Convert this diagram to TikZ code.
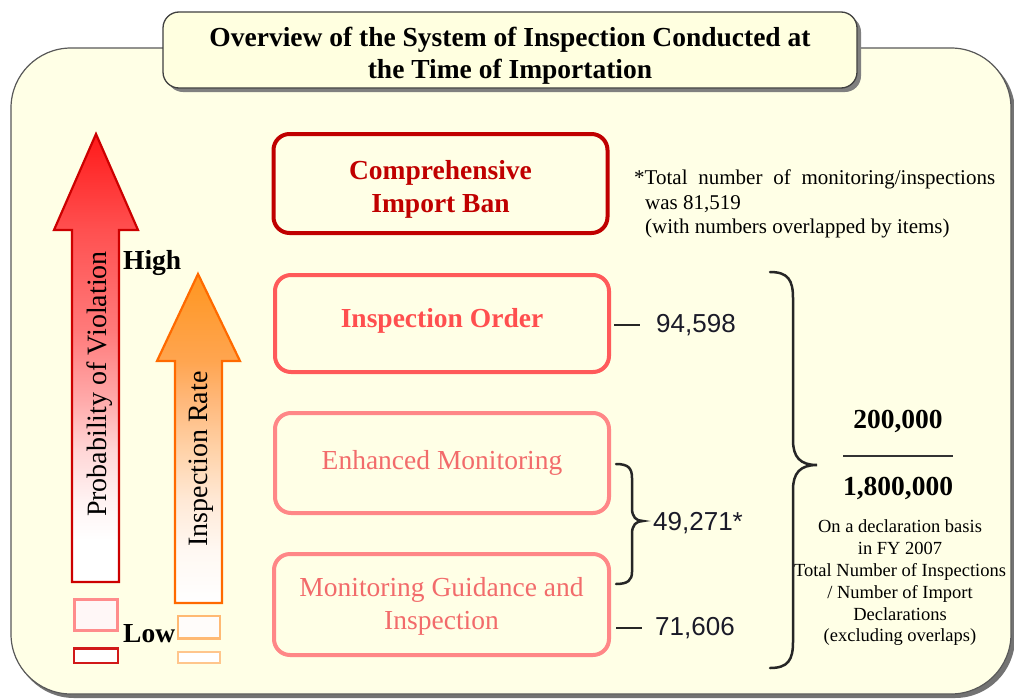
\documentclass[tikz,border=0pt]{standalone}
\usepackage{fontspec}
\setmainfont{Liberation Serif}
\newfontfamily\numfont{Liberation Sans}

% palette
\definecolor{panelfill}{HTML}{FFFFE6}
\definecolor{titlefill}{HTML}{FFFFE0}
\definecolor{banred}{HTML}{C00000}
\definecolor{orderred}{HTML}{FF4F4F}
\definecolor{orderline}{HTML}{FF5A5A}
\definecolor{softline}{HTML}{FF8787}
\definecolor{softtext}{HTML}{F26B6B}
\definecolor{arrowred}{HTML}{CC0000}
\definecolor{arroworange}{HTML}{FF6A00}
\definecolor{numink}{HTML}{1A1A28}
% shading stops
\definecolor{ra}{HTML}{FF1A1A}
\definecolor{rb}{HTML}{FF5050}
\definecolor{rc}{HTML}{FF7A7A}
\definecolor{rd}{HTML}{FFAAAA}
\definecolor{re}{HTML}{FFD6D6}
\definecolor{rf}{HTML}{FFF2F2}
\definecolor{oa}{HTML}{FF9620}
\definecolor{ob}{HTML}{FFA550}
\definecolor{oc}{HTML}{FFB87A}
\definecolor{od}{HTML}{FFD2A8}
\definecolor{oe}{HTML}{FFE9D6}
\definecolor{of}{HTML}{FFF8F2}

\pgfdeclareverticalshading{redfade}{100bp}{color(0bp)=(white); color(25bp)=(white);
  color(29.7bp)=(white); color(34.2bp)=(rf); color(39.7bp)=(re); color(45.3bp)=(rd);
  color(53.1bp)=(rc); color(64.3bp)=(rb); color(75bp)=(ra); color(100bp)=(ra)}
\pgfdeclareverticalshading{orangefade}{100bp}{color(0bp)=(white); color(25bp)=(white);
  color(33bp)=(of); color(40.6bp)=(oe); color(48.3bp)=(od); color(55.8bp)=(oc);
  color(61.8bp)=(ob); color(75bp)=(oa); color(100bp)=(oa)}

\tikzset{
  catbox/.style={draw, rounded corners=16pt, line width=4pt, fill=panelfill,
    minimum width=334pt, minimum height=99pt, align=center, inner sep=0pt},
  boldtext/.style={font=\fontsize{27.5}{33}\selectfont\bfseries},
  plaintext/.style={font=\fontsize{27.5}{33}\selectfont},
  count/.style={font=\numfont\fontsize{26}{30}\selectfont, text=numink, inner sep=0pt, anchor=west},
  tick/.style={line width=2.5pt, black!85},
  bracket/.style={line width=2.5pt, black!85, line cap=round},
  sidelabel/.style={font=\fontsize{28}{32}\selectfont, inner sep=0pt},
}

\begin{document}
\begin{tikzpicture}[x=1pt,y=-1pt]
\useasboundingbox (0,0) rectangle (1014,699);
\fill[white] (0,0) rectangle (1014,699);

% main panel with its shadow
\fill[black!55, rounded corners=60pt] (14,52) rectangle (1015,698);
\filldraw[fill=panelfill, draw=black!65, line width=1.2pt, rounded corners=60pt]
  (11,48) rectangle (1011,694);

% heading
\fill[black!50, rounded corners=16pt] (167,16) rectangle (861,92);
\node[draw=black!75, line width=1.3pt, fill=titlefill, rounded corners=16pt,
  minimum width=694pt, minimum height=76pt, align=center, inner sep=0pt,
  font=\fontsize{27.5}{32}\selectfont\bfseries] (title) at (510,50)
  {\rule{0pt}{30pt}Overview of the System of Inspection Conducted at\\the Time of Importation};

% scale arrows
\draw[arrowred, line width=2.2pt, line join=miter, shading=redfade]
  (96,134) -- (138,230) -- (119,230) -- (119,582) -- (72,582) -- (72,230) -- (54,230) -- cycle;
\draw[arroworange, line width=2.2pt, line join=miter, shading=orangefade]
  (198,274) -- (240,361) -- (222,361) -- (222,603) -- (175,603) -- (175,361) -- (157,361) -- cycle;
\node[sidelabel, rotate=90] (pv) at (100,384) {Probability of Violation};
\node[sidelabel, rotate=90] (ir) at (201,459) {Inspection Rate};

\node[boldtext, inner sep=0pt, anchor=base west] (high) at (123,269) {High};
\node[boldtext, inner sep=0pt, anchor=base west] (low) at (123,642) {Low};

% small bars at the low end
\filldraw[draw=red!45!white, fill=red!3!white, line width=3pt] (74.5,599.5) rectangle (117.5,630.5);
\filldraw[draw=red!80!black!90, fill=white, line width=2.4pt] (74,648.5) rectangle (118,663);
\filldraw[draw=orange!55!white, fill=orange!2!white, line width=2.4pt] (178,616) rectangle (220,638.5);
\filldraw[draw=orange!45!white, fill=white, line width=2.4pt] (178,652) rectangle (220,663);

% categories
\node[catbox, draw=banred, text=banred, boldtext] (ban) at (440.5,183.5)
  {\rule{0pt}{30pt}Comprehensive\\Import Ban};
\node[catbox, draw=orderline, text=orderred, boldtext, minimum height=97pt] (order) at (442,323.5)
  {\rule[-12pt]{0pt}{12pt}Inspection Order};
\node[catbox, draw=softline, text=softtext, plaintext, minimum height=100pt] (enh) at (442,463)
  {Enhanced Monitoring};
\node[catbox, draw=softline, text=softtext, plaintext, minimum width=335pt, minimum height=101pt] (guide) at (441.5,604.5)
  {\rule{0pt}{23.5pt}Monitoring Guidance and\\Inspection};

% counts
\node[count] (n1) at (656,325) {94,598};
\node[count] (n2) at (653,523) {49,271*};
\node[count] (n3) at (655,628) {71,606};
\draw[tick, shorten <=3pt, shorten >=16pt] (order.east |- n1.west) -- (n1.west);
\draw[tick, shorten <=5pt, shorten >=13pt] (guide.east |- n3.west) -- (n3.west);

% bracket joining the two monitoring categories
\draw[bracket] (616,464) .. controls (628,464) and (632,468) .. (632,478) -- (632,508)
  .. controls (632,517) and (636,521) .. (643,521)
  .. controls (636,521) and (632,525) .. (632,534) -- (632,572)
  .. controls (632,580) and (628,584) .. (616,584);

% bracket spanning all inspected categories
\draw[bracket] (770,272) .. controls (788,272) and (793,280) .. (793,298) -- (793,440)
  .. controls (793,457) and (800,465) .. (817,465)
  .. controls (800,465) and (793,473) .. (793,490) -- (793,642)
  .. controls (793,660) and (788,668) .. (770,668);

% footnote
\node[font=\fontsize{21}{24.5}\selectfont, align=left, inner sep=0pt, anchor=west] (note) at (634,204)
  {\makebox[361pt][s]{*Total number of monitoring/inspections}\\\hspace*{11pt}was 81,519\\\hspace*{11pt}(with numbers overlapped by items)};

% inspection ratio
\node[boldtext, inner sep=0pt] (num) at (898,421) {200,000};
\node[boldtext, inner sep=0pt] (den) at (898,488) {1,800,000};
\draw[line width=2pt, black!80] (843,456) -- (953,456);
\node[font=\fontsize{18.5}{21.8}\selectfont, align=center, inner sep=0pt] (basis) at (900,583)
  {On a declaration basis\\in FY 2007\\Total Number of Inspections\\/ Number of Import\\Declarations\\(excluding overlaps)};
\end{tikzpicture}
\end{document}
